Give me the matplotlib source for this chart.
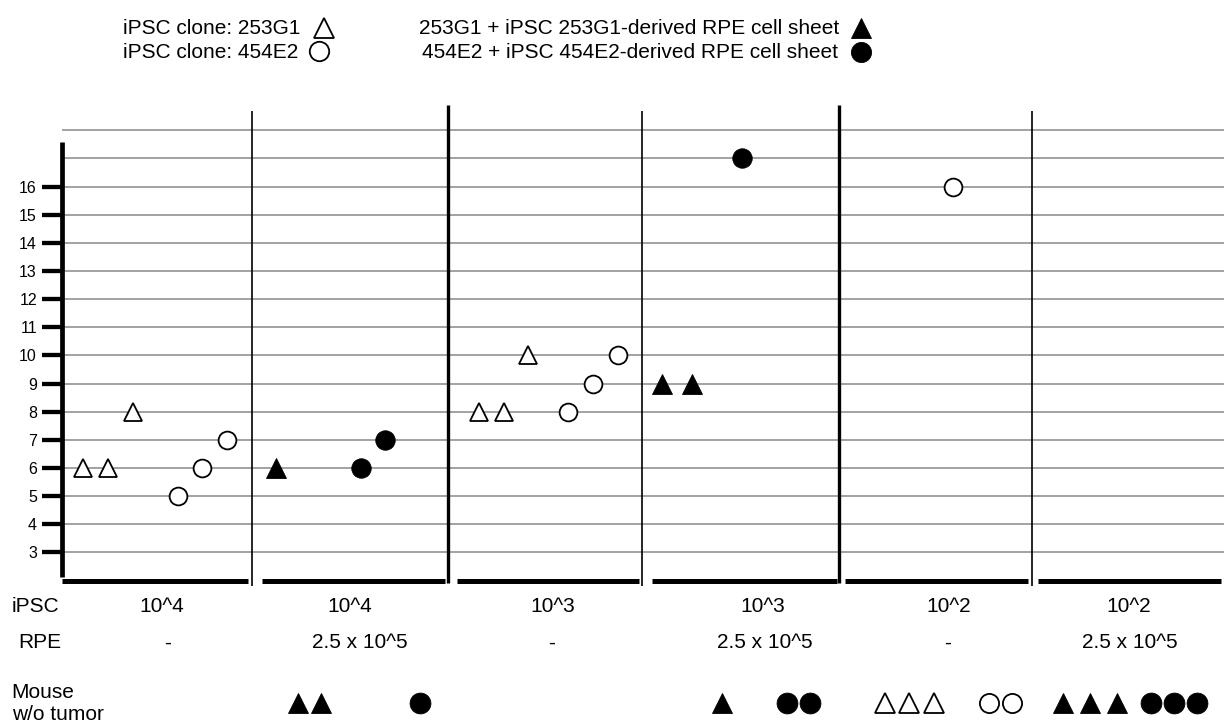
import numpy as np
import matplotlib.pyplot as plt
from matplotlib.lines import Line2D
from matplotlib.transforms import blended_transform_factory

plt.rcParams["font.family"] = ["Liberation Sans", "DejaVu Sans"]

# groups, left to right
ipsc_dose = ["10^4", "10^4", "10^3", "10^3", "10^2", "10^2"]
rpe_dose = ["-", "2.5 x 10^5", "-", "2.5 x 10^5", "-", "2.5 x 10^5"]
with_rpe = [False, True, False, True, False, True]

# tumor onset of each mouse (253G1 = triangles, 454E2 = circles)
onset_253g1 = [[6, 6, 8], [6], [8, 8, 10], [9, 9], [], []]
onset_454e2 = [[5, 6, 7], [6, 7], [8, 9, 10], [17], [16], []]

# mice without tumor
free_253g1 = [0, 2, 0, 1, 3, 3]
free_454e2 = [0, 1, 0, 2, 2, 3]

yticks = list(range(3, 17))

# layout inside each group (in group widths)
tri_x0 = [0.110, 0.105, 0.153, 0.096, 0.1, 0.1]
tri_dx = [0.129, 0.129, 0.127, 0.155, 0.129, 0.129]
circ_x0 = [0.597, 0.542, 0.614, 0.510, 0.602, 0.6]
circ_dx = 0.128
free_tri_x0 = [0.2, 0.217, 0.2, 0.408, 0.249, 0.168]
free_tri_dx = [0.125, 0.12, 0.125, 0.125, 0.127, 0.14]
free_circ_x0 = [0.8, 0.849, 0.8, 0.742, 0.784, 0.623]
free_circ_dx = 0.12
ipsc_dx = [0.516, 0.487, 0.535, 0.620, 0.578, 0.508]
rpe_dx = [0.547, 0.539, 0.530, 0.630, 0.575, 0.514]
sep_x = [0.981, 1.993, 2.995, 4.012, 5.010]
bar_start = [0.0, 1.033, 2.04, 3.045, 4.043, 5.04]
bar_end = [0.959, 1.978, 2.98, 4.0, 4.988, 5.983]

W, H = 1224, 722
fig = plt.figure(figsize=(W / 100, H / 100), dpi=100)
ax = fig.add_axes([62 / W, 1 - 580.5 / H, 1 - 62 / W, (580.5 - 105) / H])
ax.set_xlim(0, 6)
ax.set_ylim(2, 18.9)
for s in ax.spines.values():
    s.set_visible(False)
ax.set_xticks([])
ax.set_yticks(yticks)
ax.tick_params(axis="y", length=14.4, width=3.1, pad=3.6, labelsize=11.5)

for v in range(3, 19):
    ax.axhline(v, color="#9b9b9b", lw=1.3, zorder=0)

# y axis line
ax.plot([0, 0], [2.12, 17.59], color="black", lw=3.4, clip_on=False,
        solid_capstyle="butt")

# separators between groups
for k, x in enumerate(sep_x):
    if k % 2 == 1:
        ax.plot([x, x], [1.92, 18.9], color="black", lw=2.4, clip_on=False,
                solid_capstyle="butt")
    else:
        ax.plot([x, x], [1.82, 18.69], color="black", lw=1.2, clip_on=False,
                solid_capstyle="butt")

# bottom bars
for x0, x1 in zip(bar_start, bar_end):
    ax.plot([x0, x1], [2, 2], color="black", lw=3.6, clip_on=False,
            solid_capstyle="butt")

# tumor onset points
for i in range(6):
    face = "black" if with_rpe[i] else "white"
    ms_t = 15 if with_rpe[i] else 13.2
    ms_c = 14 if with_rpe[i] else 12.8
    mew = 0.6 if with_rpe[i] else 1.3
    xs = i + tri_x0[i] + tri_dx[i] * np.arange(len(onset_253g1[i]))
    ax.plot(xs, onset_253g1[i], ls="none", marker="^", ms=ms_t, mfc=face,
            mec="black", mew=mew, clip_on=False, zorder=3)
    xs = i + circ_x0[i] + circ_dx * np.arange(len(onset_454e2[i]))
    ax.plot(xs, onset_454e2[i], ls="none", marker="o", ms=ms_c, mfc=face,
            mec="black", mew=mew, clip_on=False, zorder=3)

# rows under the chart
tr = blended_transform_factory(ax.transData, fig.transFigure)
for i in range(6):
    ax.text(i + ipsc_dx[i], 1 - 611.5 / H, ipsc_dose[i], transform=tr,
            ha="center", va="baseline", fontsize=15)
    ax.text(i + rpe_dx[i], 1 - 648.5 / H, rpe_dose[i], transform=tr,
            ha="center", va="baseline", fontsize=15)
    face = "black" if with_rpe[i] else "white"
    mew = 0.6 if with_rpe[i] else 1.3
    y_row = 1 - 703 / H
    xs = i + free_tri_x0[i] + free_tri_dx[i] * np.arange(free_253g1[i])
    ax.plot(xs, [y_row] * len(xs), transform=tr, ls="none", marker="^",
            ms=15 if with_rpe[i] else 14.2, mfc=face, mec="black", mew=mew,
            clip_on=False)
    xs = i + free_circ_x0[i] + free_circ_dx * np.arange(free_454e2[i])
    ax.plot(xs, [y_row] * len(xs), transform=tr, ls="none", marker="o",
            ms=15 if with_rpe[i] else 13.8, mfc=face, mec="black", mew=mew,
            clip_on=False)

fig.text(11.7 / W, 1 - 611.5 / H, "iPSC", fontsize=15, va="baseline")
fig.text(18.3 / W, 1 - 648.5 / H, "RPE", fontsize=15, va="baseline")
fig.text(11.7 / W, 1 - 698 / H, "Mouse", fontsize=15, va="baseline")
fig.text(11.7 / W, 1 - 720 / H, "w/o tumor", fontsize=15, va="baseline")

# legend
legend_rows = [
    ("iPSC clone: 253G1", 123, 34.5, "^", "white", 324, 27.5),
    ("iPSC clone: 454E2", 123, 57.5, "o", "white", 319, 51),
    ("253G1 + iPSC 253G1-derived RPE cell sheet", 419, 34.5, "^", "black", 861, 28),
    ("454E2 + iPSC 454E2-derived RPE cell sheet", 422, 57.5, "o", "black", 861, 52),
]
for label, tx, ty, mk, face, mx, my in legend_rows:
    fig.text(tx / W, 1 - ty / H, label, fontsize=15, va="baseline")
    fig.add_artist(Line2D([mx / W], [1 - my / H], transform=fig.transFigure,
                          ls="none", marker=mk, ms=14.5 if face == "black" else 14,
                          mfc=face, mec="black",
                          mew=0.6 if face == "black" else 1.3))

fig.savefig("out.png", dpi=100)
